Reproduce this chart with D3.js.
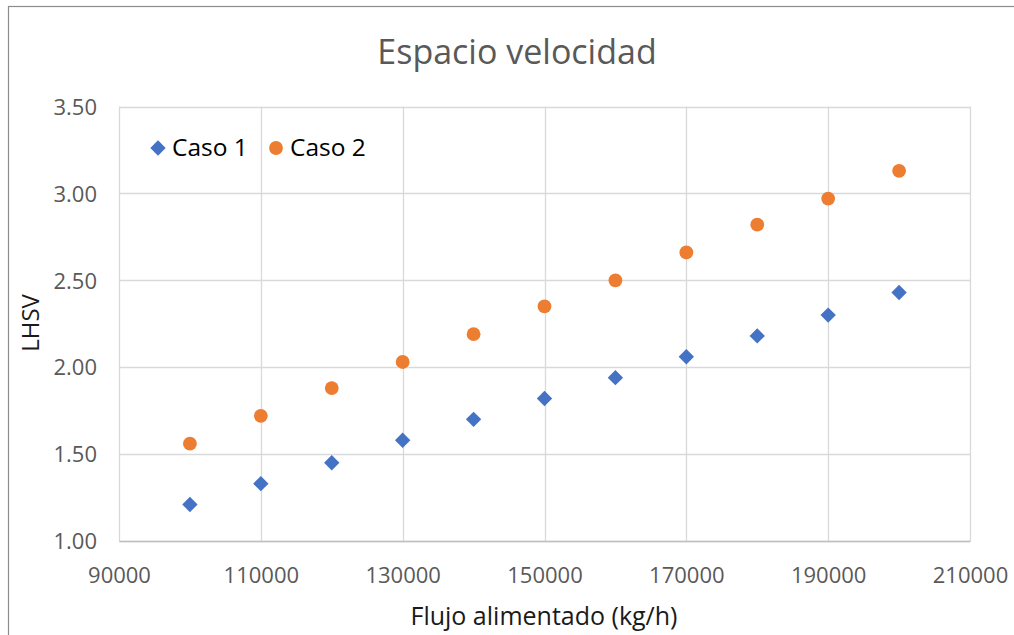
<!DOCTYPE html>
<html>
<head>
<meta charset="utf-8">
<script src="https://cdn.jsdelivr.net/npm/d3@7"></script>
<style>
  html, body { margin: 0; padding: 0; background: #fff; }
  svg { display: block; font-family: "Open Sans", sans-serif; }
</style>
</head>
<body>
<svg id="chart" width="1014" height="635"></svg>
<script>
// Feed flow (kg/h)
const flujo = [100000, 110000, 120000, 130000, 140000, 150000, 160000, 170000, 180000, 190000, 200000];
// LHSV for each case
const caso1 = [1.21, 1.33, 1.45, 1.58, 1.70, 1.82, 1.94, 2.06, 2.18, 2.30, 2.43];
const caso2 = [1.56, 1.72, 1.88, 2.03, 2.19, 2.35, 2.50, 2.66, 2.82, 2.97, 3.13];
const seriesNames = ["Caso 1", "Caso 2"];
const xTicks = [90000, 110000, 130000, 150000, 170000, 190000, 210000];
const yTicks = [1.00, 1.50, 2.00, 2.50, 3.00, 3.50];

const colors = ["#4472C4", "#ED7D31"];
const svg = d3.select("#chart");

// Outer chart frame (right and bottom edges run past the view)
svg.append("rect")
  .attr("x", 8.5).attr("y", 6.5)
  .attr("width", 1030).attr("height", 660)
  .attr("fill", "#fff").attr("stroke", "#8c8c8c").attr("stroke-width", 1.2);

const plot = { left: 119, right: 970, top: 106.5, bottom: 541 };

const x = d3.scaleLinear().domain([90000, 210000]).range([plot.left, plot.right]);
const y = d3.scaleLinear().domain([1.0, 3.5]).range([plot.bottom, plot.top]);

// Gridlines
const grid = svg.append("g");
grid.selectAll("line.v").data(xTicks).join("line")
  .attr("x1", d => Math.round(x(d)) + 0.5).attr("x2", d => Math.round(x(d)) + 0.5)
  .attr("y1", plot.top).attr("y2", plot.bottom)
  .attr("stroke", "#d9d9d9").attr("stroke-width", 1.3);
grid.selectAll("line.h").data(yTicks).join("line")
  .attr("x1", plot.left).attr("x2", plot.right)
  .attr("y1", d => Math.round(y(d)) + 0.5).attr("y2", d => Math.round(y(d)) + 0.5)
  .attr("stroke", "#d9d9d9").attr("stroke-width", 1.3);

// Axes (labels only, no tick marks)
const xAxis = d3.axisBottom(x).tickValues(xTicks).tickSize(0).tickPadding(0).tickFormat(d3.format("d"));
const gx = svg.append("g").attr("transform", `translate(0,${plot.bottom})`).call(xAxis);
gx.select(".domain").attr("stroke", "#bfbfbf").attr("stroke-width", 1.3);
gx.selectAll("text")
  .attr("y", 0).attr("dy", null)
  .attr("transform", "translate(0,42)")
  .attr("fill", "#595959").style("font-size", "22px").style("font-family", "'Open Sans', sans-serif");

const yAxis = d3.axisLeft(y).tickValues(yTicks).tickSize(0).tickPadding(22).tickFormat(d3.format(".2f"));
const gy = svg.append("g").attr("transform", `translate(${plot.left},0)`).call(yAxis);
gy.select(".domain").remove();
gy.selectAll("text")
  .attr("dy", "0.35em")
  .attr("fill", "#595959").style("font-size", "22px").style("font-family", "'Open Sans', sans-serif");

// Markers
const pts1 = flujo.map((f, i) => ({ f, v: caso1[i] }));
const pts2 = flujo.map((f, i) => ({ f, v: caso2[i] }));
const diamond = d3.symbol().type(d3.symbolSquare).size(118);

svg.append("g").selectAll("path").data(pts1).join("path")
  .attr("d", diamond)
  .attr("transform", d => `translate(${x(d.f)},${y(d.v)}) rotate(45)`)
  .attr("fill", colors[0]);

svg.append("g").selectAll("circle").data(pts2).join("circle")
  .attr("cx", d => x(d.f)).attr("cy", d => y(d.v)).attr("r", 6.9)
  .attr("fill", colors[1]);

// Title
svg.append("text")
  .attr("x", 517).attr("y", 64)
  .attr("text-anchor", "middle")
  .attr("fill", "#595959").style("font-size", "34px")
  .text("Espacio velocidad");

// Axis titles
svg.append("text")
  .attr("x", 544).attr("y", 625)
  .attr("text-anchor", "middle")
  .attr("fill", "#1a1a1a").style("font-size", "25px")
  .text("Flujo alimentado (kg/h)");

svg.append("text")
  .attr("transform", "translate(39,323) rotate(-90)")
  .attr("text-anchor", "middle")
  .attr("fill", "#1a1a1a").style("font-size", "24px")
  .text("LHSV");

// Legend
const legend = svg.append("g");
const legendItems = [
  { name: seriesNames[0], cx: 158, tx: 172 },
  { name: seriesNames[1], cx: 276, tx: 290 }
];
legend.append("path")
  .attr("d", diamond)
  .attr("transform", `translate(${legendItems[0].cx},148) rotate(45)`)
  .attr("fill", colors[0]);
legend.append("circle")
  .attr("cx", legendItems[1].cx).attr("cy", 148).attr("r", 6.9)
  .attr("fill", colors[1]);
legend.selectAll("text").data(legendItems).join("text")
  .attr("x", d => d.tx).attr("y", 156)
  .attr("fill", "#000").style("font-size", "24.5px")
  .text(d => d.name);
</script>
</body>
</html>
